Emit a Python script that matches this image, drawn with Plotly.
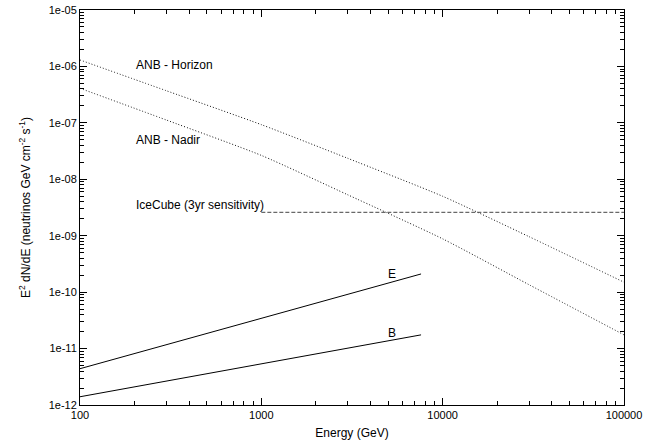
import plotly.graph_objects as go

# Energy (GeV)
energy_anb = [100, 300, 1000, 3000, 10000, 30000, 100000]
anb_horizon = [1.3e-6, 3.7e-7, 9.3e-8, 2.35e-8, 5.0e-9, 9.6e-10, 1.5e-10]
anb_nadir = [4.1e-7, 1.12e-7, 2.65e-8, 5.3e-9, 8.8e-10, 1.35e-10, 1.75e-11]

energy_icecube = [1000, 100000]
icecube_3yr = [2.6e-9, 2.6e-9]

energy_model = [100, 7600]
model_e = [4.4e-12, 2.1e-10]
model_b = [1.4e-12, 1.75e-11]

y_tickvals = [1e-12, 1e-11, 1e-10, 1e-9, 1e-8, 1e-7, 1e-6, 1e-5]
y_ticktext = ["1e-12", "1e-11", "1e-10", "1e-09", "1e-08", "1e-07", "1e-06", "1e-05"]
x_tickvals = [100, 1000, 10000, 100000]
x_ticktext = ["100", "1000", "10000", "100000"]

FONT = "Liberation Sans, Arial, Helvetica, sans-serif"

fig = go.Figure()
fig.add_trace(go.Scatter(x=energy_anb, y=anb_horizon, mode="lines",
                         line=dict(color="#111111", width=1, dash="1px,2px", shape="spline", smoothing=0.6),
                         name="ANB - Horizon"))
fig.add_trace(go.Scatter(x=energy_anb, y=anb_nadir, mode="lines",
                         line=dict(color="#111111", width=1, dash="1px,2px", shape="spline", smoothing=0.6),
                         name="ANB - Nadir"))
fig.add_trace(go.Scatter(x=energy_icecube, y=icecube_3yr, mode="lines",
                         line=dict(color="#444444", width=1, dash="4px,2px"), name="IceCube"))
fig.add_trace(go.Scatter(x=energy_model, y=model_e, mode="lines",
                         line=dict(color="black", width=1), name="E"))
fig.add_trace(go.Scatter(x=energy_model, y=model_b, mode="lines",
                         line=dict(color="black", width=1), name="B"))

def minor_vals(lo_exp, hi_exp):
    vals = []
    for e in range(lo_exp, hi_exp):
        for m in range(2, 10):
            vals.append(m * 10 ** e)
    return vals

annots = [
    ("ANB - Horizon", 2.3, -5.97, "left"),
    ("ANB - Nadir", 2.3, -7.30, "left"),
    ("IceCube (3yr sensitivity)", 2.3, -8.46, "left"),
    ("E", 3.72, -9.67, "center"),
    ("B", 3.72, -10.72, "center"),
]
for text, ax_, ay_, xa in annots:
    fig.add_annotation(x=ax_, y=ay_, text=text, showarrow=False, xanchor=xa,
                       yanchor="middle", font=dict(family=FONT, size=12, color="black"))

fig.update_layout(
    width=663, height=445,
    margin=dict(l=80, r=39, t=10, b=40),
    paper_bgcolor="white", plot_bgcolor="white",
    showlegend=False,
    font=dict(family=FONT, size=11, color="black"),
    xaxis=dict(type="log", range=[2, 5], tickvals=x_tickvals, ticktext=x_ticktext,
               automargin=False,
               ticks="inside", ticklen=7, tickwidth=1, tickcolor="black",
               showline=True, linecolor="black", linewidth=1, mirror="allticks",
               showgrid=False, zeroline=False,
               minor=dict(tickvals=minor_vals(2, 5), ticks="inside", ticklen=4,
                          tickcolor="black", showgrid=False),
               title=dict(text="Energy (GeV)", standoff=8, font=dict(size=12))),
    yaxis=dict(type="log", range=[-12, -5], tickvals=y_tickvals, ticktext=y_ticktext,
               automargin=False,
               ticks="inside", ticklen=7, tickwidth=1, tickcolor="black",
               showline=True, linecolor="black", linewidth=1, mirror="allticks",
               showgrid=False, zeroline=False,
               minor=dict(tickvals=minor_vals(-12, -5), ticks="inside", ticklen=4,
                          tickcolor="black", showgrid=False),
               title=dict(text="E<sup>2</sup> dN/dE (neutrinos GeV cm<sup>-2</sup> s<sup>-1</sup>)",
                          standoff=15, font=dict(size=12))),
)

fig.write_html("out.html")
